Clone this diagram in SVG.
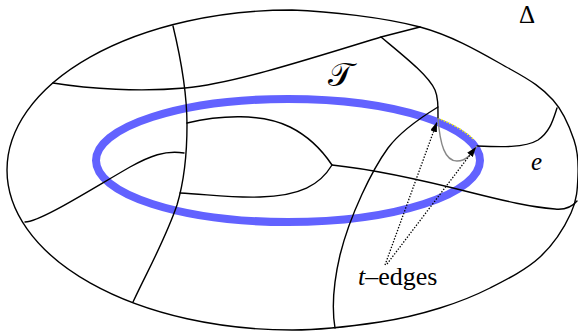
<svg xmlns="http://www.w3.org/2000/svg" width="578" height="332" viewBox="0 0 578 332">
<style>
.ln{fill:none;stroke:#000;stroke-width:1.4;stroke-linecap:round;stroke-linejoin:round}
.dot{fill:none;stroke:#000;stroke-width:1.3;stroke-dasharray:1.4 1.6}
.lbl{font-family:"Liberation Serif","DejaVu Serif",serif;fill:#000}
</style>
<defs>
<marker id="ah" markerUnits="userSpaceOnUse" markerWidth="11" markerHeight="8" refX="10" refY="3.5" orient="auto">
<path d="M0,0 L10,3.5 L0,7 z" fill="#000"/>
</marker>
</defs>
<rect width="578" height="332" fill="#fff"/>
<g id="torus">
<ellipse cx="288" cy="160.5" rx="192" ry="61.5" fill="none" stroke="#6262ff" stroke-width="8"/>
<path d="M438,118.3 A196,65.5 0 0 1 474,139.9" fill="none" stroke="#ffff00" stroke-width="1.4" stroke-dasharray="1.5 1.5"/>
</g>
<g id="boundary">
<path class="ln" d="M292,330 A285,160 0 0 1 7,170 A285,160 0 0 1 292,10 C328.7,11.4 383.7,17.2 420,27 C456.3,36.8 487.8,56.8 510,69 C532.2,81.2 542.3,88.2 553,100 C563.7,111.8 569.8,127.5 574,140 C578.2,152.5 578.5,162.8 578,175 C577.5,187.2 577.3,199.3 571,213 C564.7,226.7 553.5,244.5 540,257 C526.5,269.5 506.7,279.5 490,288 C473.3,296.5 458.3,302.3 440,308 C421.7,313.7 404.7,318.3 380,322 C355.3,325.7 322,330.1 292,330 Z"/>
</g>
<g id="edges">
<path class="ln" d="M53,83 C90,89 140,92 185,88 C230,84 300,62 381,37 L420,27"/>
<path class="ln" d="M173,26 C180,55 187,95 187,125 C187,160 183,185 177,205 C165,240 148,270 133,302"/>
<path class="ln" d="M25,222 C40,222 90,190 130,167 C150,156 165,150 184,153"/>
<path class="ln" d="M187,123 C220,115 262,113 290,127 C308,136 322,150 332,165 C320,185 300,196 260,197 C230,198 205,194 180,193"/>
<path class="ln" d="M332,165 C380,170 430,182 473,193 C505,201 530,207 555,209 C565,210 572,207 577,201"/>
<path class="ln" d="M381,37 C405,57 428,75 435,90 C438,97 438,105 438,118"/>
<path class="ln" d="M438,107 C420,118 400,132 388,148 C372,170 350,215 340,255 C333,285 332,310 335,328"/>
<path class="ln" d="M477,146 C500,147 525,148 538,140 C550,132 553,120 557,108"/>
<path d="M438,118 C440,145 445,161 457,161 C467,161 472,153 477,146" fill="none" stroke="#888" stroke-width="1.4"/>
</g>
<g id="connectors">
<line class="dot" x1="385" y1="265" x2="437" y2="122" marker-end="url(#ah)"/>
<line class="dot" x1="387" y1="264" x2="476" y2="147" marker-end="url(#ah)"/>
</g>
<g id="labels">
<text class="lbl" x="527" y="23" font-size="25" text-anchor="middle">Δ</text>
<text class="lbl" x="340" y="86" font-size="33" text-anchor="middle" font-family="'DejaVu Serif','DejaVu Sans',serif">𝒯</text>
<text class="lbl" x="531" y="170" font-size="25" font-style="italic">e</text>
<text class="lbl" x="358" y="285" font-size="26"><tspan font-style="italic">t</tspan>–edges</text>
</g>
</svg>
